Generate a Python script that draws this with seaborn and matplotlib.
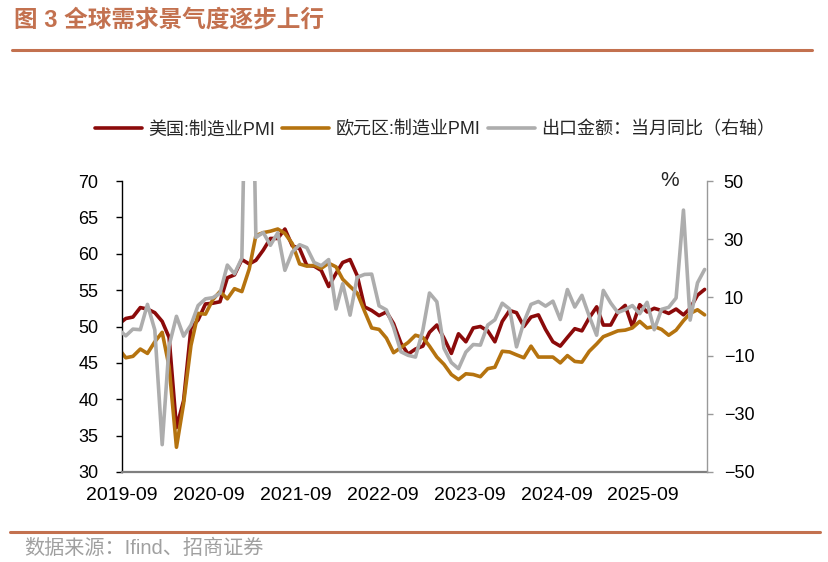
import pandas as pd
import matplotlib
matplotlib.use("Agg")
import matplotlib.pyplot as plt
import matplotlib.dates as mdates
from matplotlib.lines import Line2D
import seaborn as sns

# ---------------- data (monthly, 2019-08 .. 2026-05) ----------------
start_month = "2019-08"
end_month = "2026-05"

us_pmi = [
    50.3, 51.1, 51.3, 52.6, 52.4,
    51.9, 50.7, 48.5, 36.1, 39.8, 49.8, 50.9, 53.1, 53.2, 53.4, 56.7, 57.1,
    59.2, 58.6, 59.1, 60.5, 62.1, 62.1, 63.4, 61.1, 60.7, 58.4, 58.3, 57.7,
    55.5, 57.3, 58.8, 59.2, 57.0, 52.7, 52.2, 51.5, 52.0, 50.4, 47.7, 46.2,
    46.9, 47.3, 49.2, 50.2, 48.4, 46.3, 49.0, 47.9, 49.8, 50.0, 49.4, 47.9,
    50.7, 52.2, 51.9, 50.0, 51.3, 51.6, 49.6, 47.9, 47.3, 48.5, 49.7, 49.4,
    51.2, 52.7, 50.2, 50.2, 52.0, 52.9, 50.0, 53.0, 52.0, 52.5, 52.2, 51.8,
    52.4, 51.6, 52.5, 54.3, 55.1,
]

ez_pmi = [
    47.0, 45.7, 45.9, 46.9, 46.3,
    47.9, 49.2, 44.5, 33.4, 39.4, 47.4, 51.8, 51.7, 53.7, 54.8, 53.8, 55.2,
    54.8, 57.9, 62.5, 62.9, 63.1, 63.4, 62.8, 61.4, 58.6, 58.3, 58.4, 58.0,
    58.7, 58.2, 56.5, 55.5, 54.6, 52.1, 49.8, 49.6, 48.4, 46.4, 47.1, 47.8,
    48.8, 48.5, 47.3, 45.8, 44.8, 43.4, 42.7, 43.5, 43.4, 43.1, 44.2, 44.4,
    46.6, 46.5, 46.1, 45.7, 47.3, 45.8, 45.8, 45.8, 45.0, 46.0, 45.2, 45.1,
    46.6, 47.6, 48.6, 49.0, 49.4, 49.5, 49.8, 50.7, 49.8, 50.0, 49.6, 48.8,
    49.5, 50.8, 51.8, 52.3, 51.6,
]

cn_export_yoy = [
    -1.0, -3.2, -0.9, -1.1, 7.6,
    -1.2, -40.6, -6.6, 3.5, -3.3, 0.5, 7.2, 9.5, 9.9, 11.4, 21.1, 18.1,
    23.5, 154.9, 30.6, 32.3, 27.9, 32.2, 19.3, 25.6, 28.1, 27.1, 22.0, 20.9,
    23.0, 6.0, 14.7, 3.9, 16.9, 17.9, 18.0, 7.1, 5.7, -0.3, -8.7, -9.9,
    -10.5, -1.3, 11.5, 8.5, -7.5, -12.4, -14.5, -8.8, -6.2, -6.4, 0.5, 2.3,
    8.0, 6.0, -7.0, 1.5, 7.6, 8.6, 7.0, 8.7, 2.4, 12.7, 6.7, 10.7,
    3.5, -3.0, 12.4, 8.1, 4.8, 5.8, 7.2, 4.4, 8.3, -1.1, 5.9, 6.6,
    9.8, 40.0, 2.2, 15.0, 19.6,
]

x_tick_labels = ["2019-09", "2020-09", "2021-09", "2022-09", "2023-09", "2024-09", "2025-09"]
left_ticks = [30, 35, 40, 45, 50, 55, 60, 65, 70]
right_ticks = [-50, -30, -10, 10, 30, 50]
series_names = ["美国:制造业PMI", "欧元区:制造业PMI", "出口金额：当月同比（右轴）"]
title_text = "图 3 全球需求景气度逐步上行"
source_text = "数据来源：Ifind、招商证券"

# ---------------- style ----------------
sns.set_style("white")
plt.rcParams["font.family"] = ["Liberation Sans", "Noto Sans CJK SC", "DejaVu Sans"]

US_C = "#8B0A0A"
EZ_C = "#B5730F"
CN_C = "#ADADAD"
ACCENT = "#C3714F"
LW = 2.6

months = pd.date_range(start_month, end_month, freq="MS")
df = pd.DataFrame({
    "date": months + pd.Timedelta(days=16),
    "us": us_pmi,
    "ez": ez_pmi,
    "cn": cn_export_yoy,
})

W, H = 829, 562
fig = plt.figure(figsize=(W / 100, H / 100), dpi=100)
ax = fig.add_axes([122 / W, 1 - 472 / H, (707 - 122) / W, (472 - 181) / H])

line_kw = dict(linewidth=LW, solid_joinstyle="round", solid_capstyle="round", estimator=None)
sns.lineplot(data=df, x="date", y="us", ax=ax, color=US_C, **line_kw)
sns.lineplot(data=df, x="date", y="ez", ax=ax, color=EZ_C, **line_kw)
ax2 = ax.twinx()
sns.lineplot(data=df, x="date", y="cn", ax=ax2, color=CN_C, **line_kw)

# axes ranges / ticks
tick_dates = [mdates.date2num(pd.Timestamp(t + "-01")) for t in x_tick_labels]
ax.set_xlim(mdates.date2num(pd.Timestamp("2019-09-01")), mdates.date2num(pd.Timestamp("2026-05-27")))
ax.set_xticks(tick_dates)
ax.set_xticklabels(x_tick_labels)
ax.set_ylim(30, 70)
ax.set_yticks(left_ticks)
ax2.set_ylim(-50, 50)
ax2.set_yticks(right_ticks)
for a in (ax, ax2):
    a.set_xlabel("")
    a.set_ylabel("")
    a.grid(False)

# spines
for s in ("top", "right"):
    ax.spines[s].set_visible(False)
ax.spines["left"].set_color("black")
ax.spines["left"].set_linewidth(1.0)
ax.spines["bottom"].set_color("#7F7F7F")
ax.spines["bottom"].set_linewidth(1.6)
for s in ("top", "left", "bottom"):
    ax2.spines[s].set_visible(False)
ax2.spines["right"].set_color("#999999")
ax2.spines["right"].set_linewidth(1.0)

ax.tick_params(axis="y", direction="out", length=4, width=1, color="black",
               labelsize=13, pad=13, labelcolor="black")
ax.tick_params(axis="x", direction="out", length=4, width=1, color="#7F7F7F",
               labelsize=14, pad=7, labelcolor="black")
ax2.tick_params(axis="y", direction="out", length=4, width=1, color="#999999",
                labelsize=13, pad=8, labelcolor="black")

# legend
handles = [Line2D([0], [0], color=c, lw=LW) for c in (US_C, EZ_C, CN_C)]
fig.legend(handles, series_names, loc="center", bbox_to_anchor=(435 / W, 1 - 130 / H),
           ncol=3, frameon=False, fontsize=13, handlelength=2.6, handletextpad=0.35,
           columnspacing=0.4, borderaxespad=0)

# texts and decorative lines
fig.text(670 / W, 1 - 180 / H, "%", ha="center", va="center", fontsize=15)
fig.text(14 / W, 1 - 20 / H, title_text, ha="left", va="center", fontsize=17,
         color=ACCENT, fontweight="bold")
fig.add_artist(Line2D([12 / W, 812 / W], [1 - 50 / H] * 2, color=ACCENT, lw=2.2))
fig.add_artist(Line2D([10 / W, 820 / W], [1 - 532 / H] * 2, color=ACCENT, lw=2.2))
fig.text(24 / W, 1 - 548 / H, source_text, ha="left", va="center", fontsize=14.5,
         color="#A0A0A0")

fig.savefig("out.png", dpi=100)
